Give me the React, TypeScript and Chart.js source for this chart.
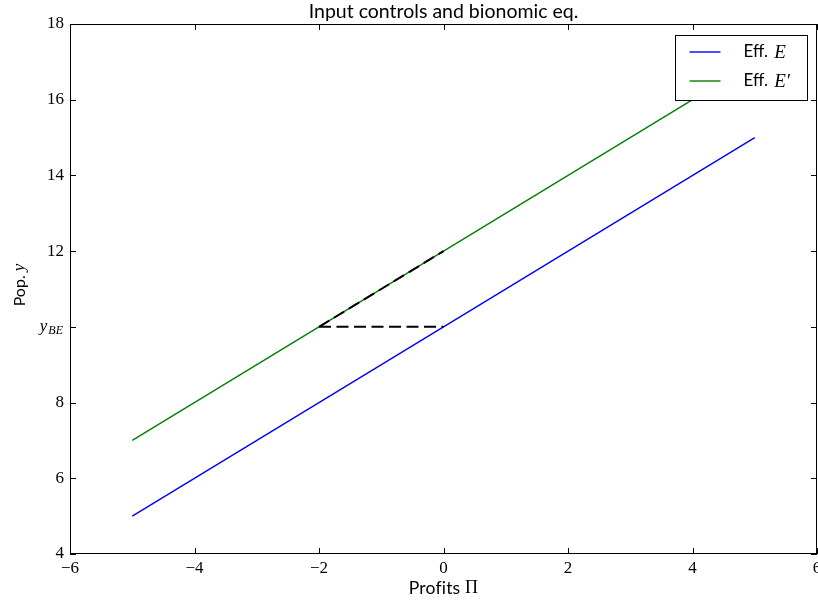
import React, { useEffect, useRef } from "react";
import { Chart, registerables } from "chart.js";

Chart.register(...registerables);

const X_RANGE = [-6, 6];
const Y_RANGE = [4, 18];
const X_TICKS = [-6, -4, -2, 0, 2, 4, 6];
const Y_TICKS = [4, 6, 8, 10, 12, 14, 16, 18];
const LINE_X = [-5, 5];
const EFF_E = [5, 15];
const EFF_E2 = [7, 17];
const DIAG_X = [-2, 0];
const DIAG_Y = [10, 12];
const HORIZ_X = [-2, 0];
const HORIZ_Y = [10, 10];
const Y_BE = 10;

const SANS = 'Lato, "Open Sans", sans-serif';
const SERIF = '"Liberation Serif", "DejaVu Serif", serif';

const fmt = (v: number) => (v < 0 ? "\u2212" + Math.abs(v) : String(v));
const pts = (xs: number[], ys: number[]) => xs.map((x, i) => ({ x, y: ys[i] }));

const framePlugin = {
  id: "frame",
  afterDraw(chart: any) {
    const { ctx, chartArea: a, scales } = chart;
    const xs = scales.x, ys = scales.y;
    ctx.save();
    ctx.strokeStyle = "#000";
    ctx.lineWidth = 1;
    ctx.strokeRect(a.left + 0.5, a.top + 0.5, a.right - a.left - 1, a.bottom - a.top - 1);
    const tl = 6;
    ctx.beginPath();
    X_TICKS.forEach((v) => {
      const px = Math.round(xs.getPixelForValue(v)) + 0.5;
      ctx.moveTo(px, a.bottom); ctx.lineTo(px, a.bottom - tl);
      ctx.moveTo(px, a.top); ctx.lineTo(px, a.top + tl);
    });
    Y_TICKS.forEach((v) => {
      const py = Math.round(ys.getPixelForValue(v)) + 0.5;
      ctx.moveTo(a.left, py); ctx.lineTo(a.left + tl, py);
      ctx.moveTo(a.right, py); ctx.lineTo(a.right - tl, py);
    });
    ctx.stroke();

    // y_BE label
    const yb = ys.getPixelForValue(Y_BE);
    ctx.fillStyle = "#000";
    ctx.textBaseline = "alphabetic";
    ctx.textAlign = "left";
    ctx.font = `italic 17px ${SERIF}`;
    const yw = ctx.measureText("y").width;
    ctx.font = `italic 12px ${SERIF}`;
    const bw = ctx.measureText("BE").width;
    const right = a.left - 7;
    const x0 = right - yw - bw - 1;
    ctx.font = `italic 17px ${SERIF}`;
    ctx.fillText("y", x0, yb + 4);
    ctx.font = `italic 12px ${SERIF}`;
    ctx.fillText("BE", x0 + yw + 1, yb + 7);

    // title
    ctx.font = `19.5px ${SANS}`;
    ctx.textAlign = "center";
    ctx.textBaseline = "middle";
    ctx.fillText("Input controls and bionomic eq.", (a.left + a.right) / 2, 12);

    // x label
    (ctx as any).letterSpacing = "0.2px";
    ctx.font = `17.5px ${SANS}`;
    const xl = "Profits ";
    const w1 = ctx.measureText(xl).width;
    ctx.font = `18px ${SERIF}`;
    const w2 = ctx.measureText("\u03A0").width;
    const cx = (a.left + a.right) / 2;
    ctx.textAlign = "left";
    ctx.font = `17.5px ${SANS}`;
    ctx.fillText(xl, cx - (w1 + w2) / 2, 588);
    ctx.font = `18px ${SERIF}`;
    ctx.fillText("\u03A0", cx - (w1 + w2) / 2 + w1, 588);
    (ctx as any).letterSpacing = "0px";

    // y label
    ctx.save();
    ctx.translate(20, 285);
    ctx.rotate(-Math.PI / 2);
    ctx.font = `16px ${SANS}`;
    const yl = "Pop. ";
    const v1 = ctx.measureText(yl).width;
    ctx.font = `italic 17px ${SERIF}`;
    const v2 = ctx.measureText("y").width;
    ctx.font = `16px ${SANS}`;
    ctx.fillText(yl, -(v1 + v2) / 2, 0);
    ctx.font = `italic 17px ${SERIF}`;
    ctx.fillText("y", -(v1 + v2) / 2 + v1, 0);
    ctx.restore();

    // legend
    const bwid = 132, bh = 65;
    const bx = Math.round(a.right - 10 - bwid) + 0.5;
    const by = Math.round(a.top + 11) + 0.5;
    ctx.fillStyle = "#fff";
    ctx.fillRect(bx, by, bwid, bh);
    ctx.strokeStyle = "#000";
    ctx.lineWidth = 1;
    ctx.strokeRect(bx, by, bwid, bh);
    const items = [
      { c: "#0000ff", m: "E" },
      { c: "#008000", m: "E\u2032" },
    ];
    items.forEach((it, i) => {
      const ly = Math.round(by + 16 + i * 29);
      ctx.strokeStyle = it.c;
      ctx.lineWidth = 1.4;
      ctx.beginPath();
      ctx.moveTo(bx + 14, ly); ctx.lineTo(bx + 45, ly);
      ctx.stroke();
      ctx.fillStyle = "#000";
      ctx.textAlign = "left";
      ctx.textBaseline = "middle";
      ctx.font = `17px ${SANS}`;
      ctx.fillText("Eff. ", bx + 68, ly);
      const ew = ctx.measureText("Eff. ").width;
      ctx.font = `italic 19px ${SERIF}`;
      ctx.fillText(it.m, bx + 68 + ew + 2, ly + 1);
    });
    ctx.restore();
  },
};

export default function App() {
  const ref = useRef<HTMLCanvasElement>(null);
  useEffect(() => {
    document.body.style.margin = "0";
    const chart = new Chart(ref.current!, {
      type: "scatter",
      data: {
        datasets: [
          { data: pts(LINE_X, EFF_E), borderColor: "#0000ff", borderWidth: 1.4, showLine: true, pointRadius: 0, order: 3 },
          { data: pts(LINE_X, EFF_E2), borderColor: "#008000", borderWidth: 1.4, showLine: true, pointRadius: 0, order: 2 },
          { data: pts(DIAG_X, DIAG_Y), borderColor: "#000", borderWidth: 2, borderDash: [12, 5.5], showLine: true, pointRadius: 0, order: 1 },
          { data: pts(HORIZ_X, HORIZ_Y), borderColor: "#000", borderWidth: 2, borderDash: [12, 5.5], showLine: true, pointRadius: 0, order: 0 },
        ],
      },
      options: {
        animation: false,
        responsive: false,
        maintainAspectRatio: false,
        devicePixelRatio: 1,
        layout: { padding: { top: 24, right: 1, left: 0, bottom: 0 }, autoPadding: false },
        plugins: { legend: { display: false }, title: { display: false }, tooltip: { enabled: false } },
        scales: {
          x: {
            type: "linear",
            min: X_RANGE[0],
            max: X_RANGE[1],
            afterBuildTicks: (s: any) => { s.ticks = X_TICKS.map((v) => ({ value: v })); },
            afterFit: (s: any) => { s.height = 50; s.paddingLeft = 0; s.paddingRight = 0; },
            grid: { display: false, drawTicks: false },
            border: { display: false },
            ticks: { color: "#000", font: { family: SERIF, size: 17 }, padding: 4, maxRotation: 0, callback: (v: any) => fmt(Number(v)) },
          },
          y: {
            type: "linear",
            min: Y_RANGE[0],
            max: Y_RANGE[1],
            afterBuildTicks: (s: any) => { s.ticks = Y_TICKS.map((v) => ({ value: v })); },
            afterFit: (s: any) => { s.width = 70; s.paddingTop = 0; s.paddingBottom = 0; },
            grid: { display: false, drawTicks: false },
            border: { display: false },
            ticks: { color: "#000", font: { family: SERIF, size: 17 }, padding: 6, callback: (v: any) => (Number(v) === Y_BE ? "" : fmt(Number(v))) },
          },
        },
      },
      plugins: [framePlugin],
    });
    return () => chart.destroy();
  }, []);
  return (
    <div style={{ width: 818, height: 604 }}>
      <canvas ref={ref} width={818} height={604} style={{ display: "block" }} />
    </div>
  );
}
